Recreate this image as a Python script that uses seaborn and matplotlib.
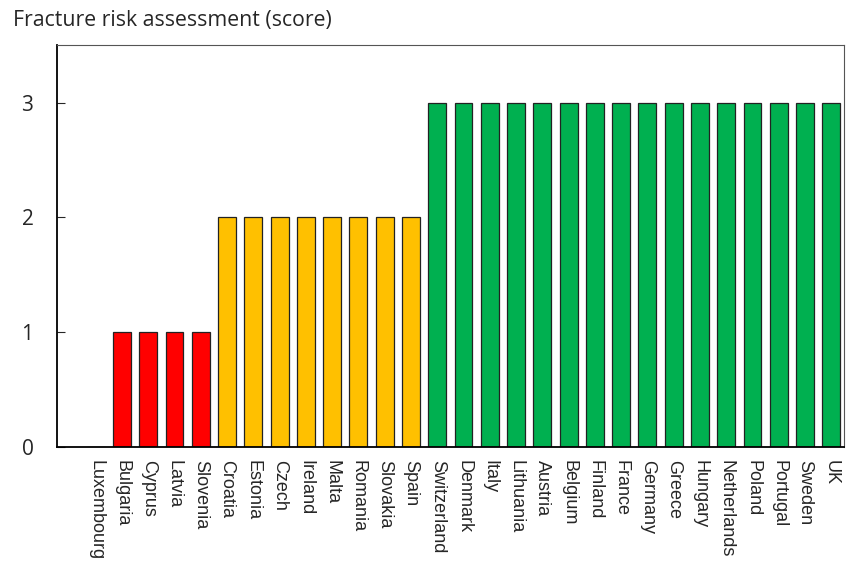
import matplotlib
matplotlib.use("Agg")
import matplotlib.pyplot as plt
import pandas as pd
import seaborn as sns

# Datos
paises = ['Luxembourg', 'Bulgaria', 'Cyprus', 'Latvia', 'Slovenia', 'Croatia', 'Estonia',
          'Czech', 'Ireland', 'Malta', 'Romania', 'Slovakia', 'Spain', 'Switzerland',
          'Denmark', 'Italy', 'Lithuania', 'Austria', 'Belgium', 'Finland', 'France',
          'Germany', 'Greece', 'Hungary', 'Netherlands', 'Poland', 'Portugal', 'Sweden', 'UK']
puntuacion = [0, 1, 1, 1, 1, 2, 2, 2, 2, 2, 2, 2, 2, 3, 3, 3, 3, 3, 3, 3, 3, 3, 3, 3, 3, 3, 3, 3, 3]
colores_nivel = {0: '#FFFFFF', 1: '#FF0000', 2: '#FFC000', 3: '#00B050'}

df = pd.DataFrame({'pais': paises, 'score': puntuacion})
paleta = [colores_nivel[s] for s in puntuacion]

sns.set_style("white")
fig = plt.figure(figsize=(8.46, 5.64), dpi=100)
ax = fig.add_axes([0.0674, 0.2074, 0.9302, 0.7126])

sns.barplot(data=df, x='pais', y='score', hue='pais', palette=paleta, legend=False,
            width=0.68, edgecolor='#222222', linewidth=0.9, ax=ax, saturation=1)

ax.set_xlim(-1.47, 28.48)
ax.set_ylim(0, 3.5)
ax.set_yticks([0, 1, 2, 3])
ax.set_yticklabels(['0', '1', '2', '3'], fontsize=15, family='Open Sans')
ax.tick_params(axis='y', left=True, length=6, width=0.8, direction='in', pad=17)
ax.tick_params(axis='x', bottom=False, pad=6)
ax.set_xticks(range(len(paises)))
ax.set_xticklabels(paises, rotation=270, fontsize=13, family='Liberation Sans', va='top', ha='center')
ax.set_xlabel('')
ax.set_ylabel('')

for lado in ['left', 'bottom']:
    ax.spines[lado].set_color('black')
    ax.spines[lado].set_linewidth(1.3)
for lado in ['top', 'right']:
    ax.spines[lado].set_color('#555555')
    ax.spines[lado].set_linewidth(0.8)

fig.text(0.0155, 0.963, 'Fracture risk assessment (score)', fontsize=15.3, family='Open Sans',
         va='center', ha='left')

plt.savefig('out.png', dpi=100)
